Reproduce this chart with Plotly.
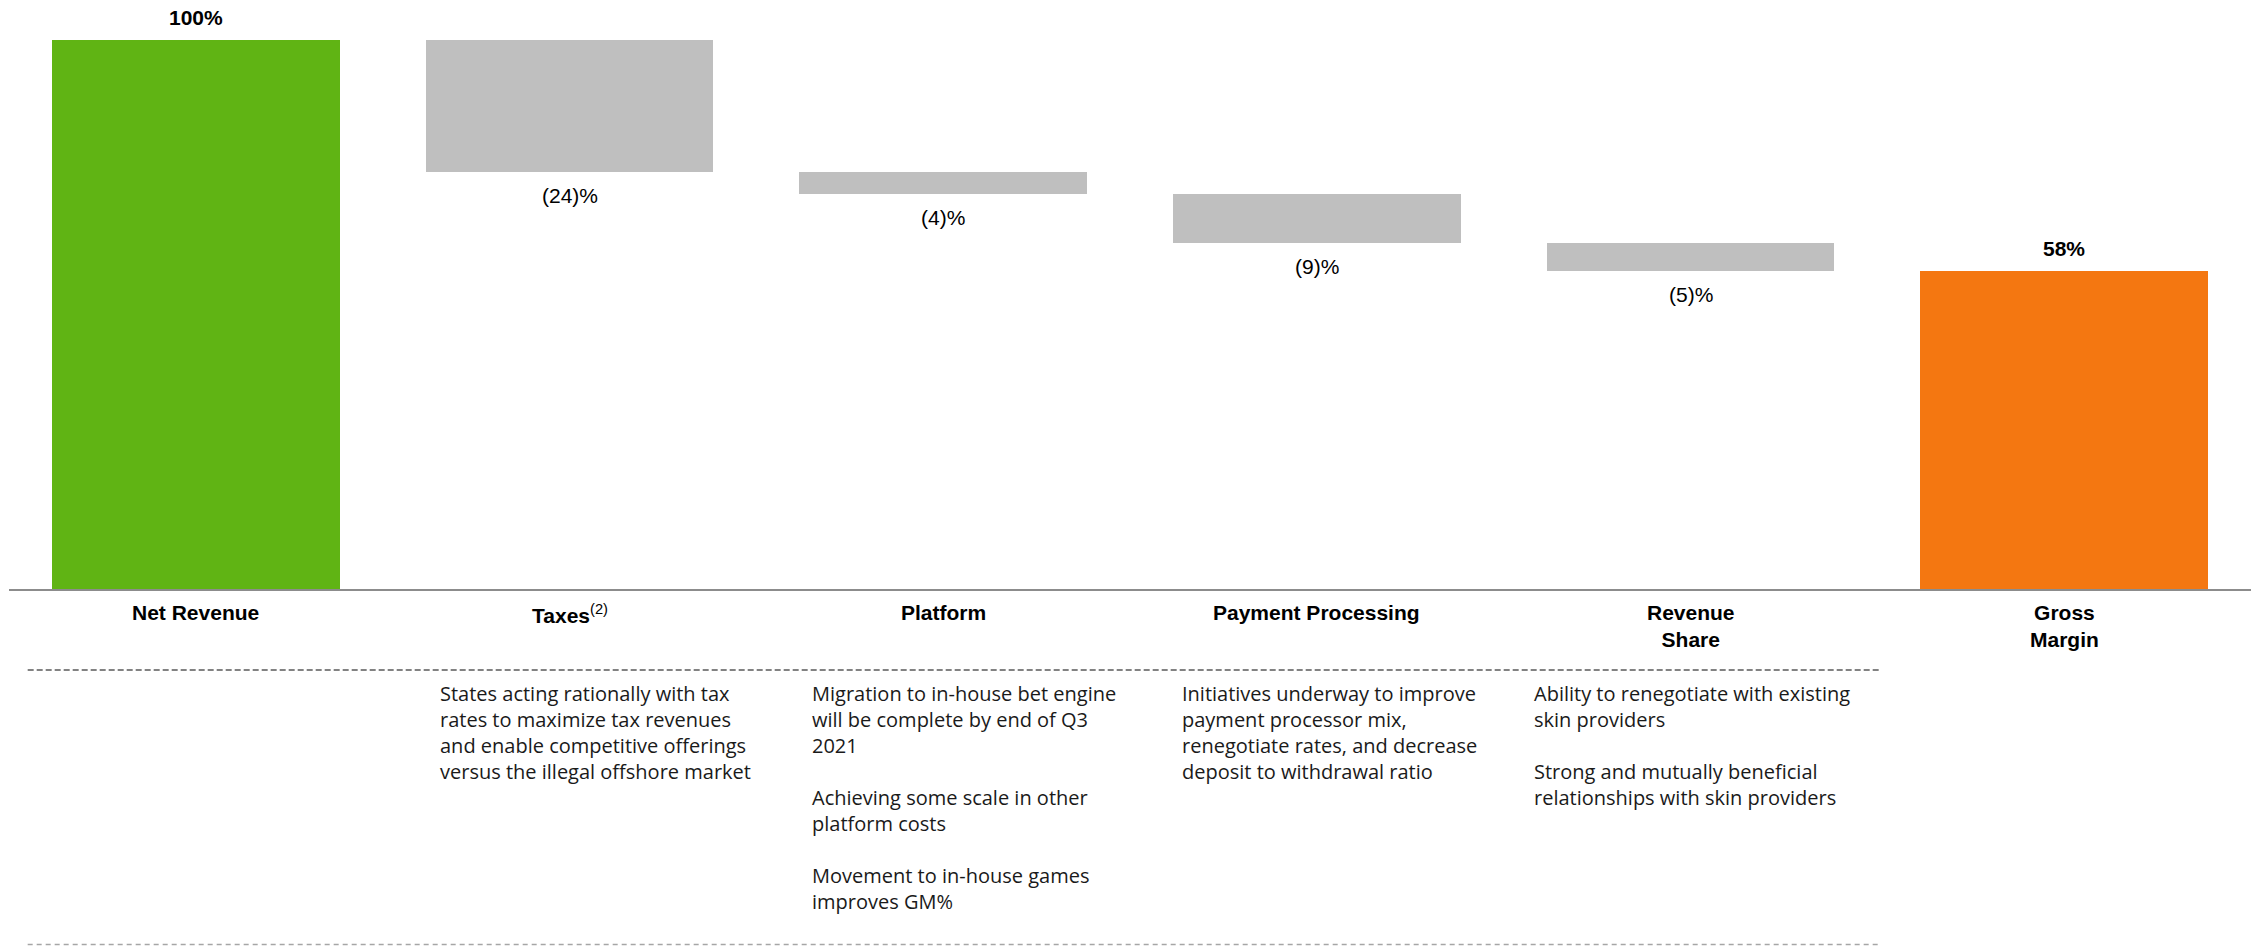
import plotly.graph_objects as go

# Gross margin bridge: net revenue down to gross margin (% of net revenue)
categories = ["Net Revenue", "Taxes", "Platform", "Payment Processing", "Revenue Share", "Gross Margin"]
axis_labels = [
    "<b>Net Revenue</b>",
    "<b>Taxes</b><sup>(2)</sup>",
    "<b>Platform</b>",
    "<b>Payment Processing</b>",
    "<b>Revenue<br>Share</b>",
    "<b>Gross<br>Margin</b>",
]
values = [100, -24, -4, -9, -5, 58]
measures = ["absolute", "relative", "relative", "relative", "relative", "total"]
notes = [
    "",
    "States acting rationally with tax<br>rates to maximize tax revenues<br>"
    "and enable competitive offerings<br>versus the illegal offshore market",
    "Migration to in-house bet engine<br>will be complete by end of Q3<br>2021<br><br>"
    "Achieving some scale in other<br>platform costs<br><br>"
    "Movement to in-house games<br>improves GM%",
    "Initiatives underway to improve<br>payment processor mix,<br>"
    "renegotiate rates, and decrease<br>deposit to withdrawal ratio",
    "Ability to renegotiate with existing<br>skin providers<br><br>"
    "Strong and mutually beneficial<br>relationships with skin providers",
    "",
]

# Styling
colors = {"absolute": "#60B414", "relative": "#BFBFBF", "total": "#F47711"}
note_offsets = [0, -0.352, -0.356, -0.367, -0.424, 0]
W, H = 2254, 946
M_L, M_R, M_T, M_B = 9, 3, 40, 357
PLOT_H = H - M_T - M_B


def paper_y(px):
    """Convert a pixel row (from top) to paper y."""
    return (H - M_B - px) / PLOT_H


# Bar geometry from the running total
bases, heights, bar_colors, labels = [], [], [], []
running = 0
for v, m in zip(values, measures):
    if m == "absolute":
        bases.append(0)
        heights.append(v)
        running = v
        labels.append(f"{v}%")
    elif m == "relative":
        running += v
        bases.append(running if v < 0 else running - v)
        heights.append(abs(v))
        labels.append(f"({abs(v)})%" if v < 0 else f"{v}%")
    else:
        bases.append(0)
        heights.append(v)
        labels.append(f"{v}%")
    bar_colors.append(colors[m])

fig = go.Figure(
    go.Bar(
        x=categories,
        y=heights,
        base=bases,
        marker=dict(color=bar_colors, line=dict(width=0)),
        width=0.769,
        hoverinfo="skip",
    )
)

label_font = dict(family="Arial, Liberation Sans, sans-serif", size=21, color="#000000")
annotations = []
for i, (cat, m, b, h, lab) in enumerate(zip(categories, measures, bases, heights, labels)):
    if m == "relative":
        annotations.append(dict(x=cat, y=b, xref="x", yref="y", text=lab, showarrow=False,
                                xanchor="center", yanchor="top", yshift=-10, font=label_font))
    else:
        annotations.append(dict(x=cat, y=b + h, xref="x", yref="y", text=f"<b>{lab}</b>",
                                showarrow=False, xanchor="center", yanchor="bottom", yshift=9,
                                font=label_font))
    # category label under the axis
    annotations.append(dict(x=cat, y=paper_y(599), xref="x", yref="paper", text=axis_labels[i],
                            showarrow=False, xanchor="center", yanchor="top", font=label_font))
    if notes[i]:
        annotations.append(dict(x=i + note_offsets[i], y=paper_y(678), xref="x", yref="paper",
                                text=notes[i], showarrow=False, xanchor="left", yanchor="top",
                                align="left",
                                font=dict(family="Open Sans, Noto Sans, sans-serif", size=20,
                                          color="#1A1A1A")))

shapes = [
    dict(type="line", xref="x", yref="paper", x0=-0.45, x1=4.51, y0=paper_y(670), y1=paper_y(670),
         line=dict(color="#595959", width=1.5, dash="6px,3px")),
    dict(type="line", xref="x", yref="paper", x0=-0.45, x1=4.51, y0=paper_y(944.5), y1=paper_y(944.5),
         line=dict(color="#A6A6A6", width=1.5, dash="5px,4px")),
]

fig.update_layout(
    width=W,
    height=H,
    margin=dict(l=M_L, r=M_R, t=M_T, b=M_B, pad=0),
    paper_bgcolor="white",
    plot_bgcolor="white",
    showlegend=False,
    bargap=0,
    annotations=annotations,
    shapes=shapes,
    xaxis=dict(range=[-0.5, 5.5], showticklabels=False, ticks="", showgrid=False, zeroline=False,
               showline=True, linecolor="#8C8C8C", linewidth=2, fixedrange=True),
    yaxis=dict(range=[0, 100], visible=False, fixedrange=True),
)

fig.write_html("out.html", config={"displayModeBar": False})
